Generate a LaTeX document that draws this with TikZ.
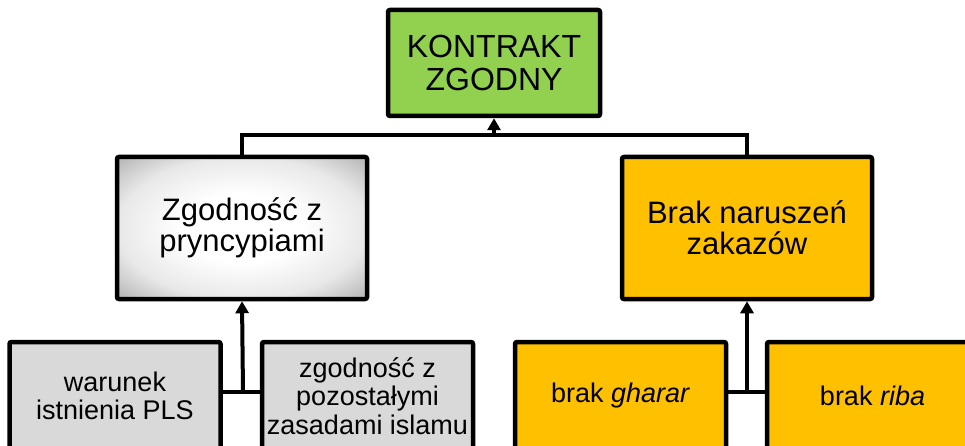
\documentclass[tikz,border=0pt]{standalone}
\usepackage{fontspec}
\setmainfont{Liberation Sans}
\usepackage{tikz}
\usetikzlibrary{arrows.meta,% triangle arrow tips
shadings}
\definecolor{zielony}{HTML}{92D050}
\definecolor{pomarancz}{HTML}{FFC000}
\definecolor{szary}{HTML}{D9D9D9}
\pgfdeclareradialshading{srodek}{\pgfpoint{0bp}{0bp}}{color(0bp)=(white); color(12bp)=(white);
  color(25bp)=(gray!18); color(36bp)=(gray!62); color(50bp)=(gray!62)}
\tikzset{box/.style={draw=black, line width=4.5pt, rounded corners=2pt,
                     align=center, inner sep=0pt, text=black},
         bigbox/.style={box, minimum width=212pt, minimum height=106pt,
                        font=\fontsize{32}{33}\selectfont},
         midbox/.style={box, minimum width=250pt, minimum height=142pt,
                        font=\fontsize{31}{31}\selectfont},
         smallbox/.style={box, minimum width=211pt, minimum height=108pt,
                          font=\fontsize{27}{28.5}\selectfont},
         link/.style={line width=4pt},
         arr/.style={link, -{Triangle[width=13pt,length=12pt]}}}

\begin{document}
\begin{tikzpicture}[x=1pt, y=1pt]
    \clip (0,0) rectangle (965,445);
    \useasboundingbox (0,0) rectangle (965,445);
    \fill[white] (0,0) rectangle (965,445);
    % top
    \node[bigbox, fill=zielony] (kontrakt) at (494,382) {KONTRAKT\\ZGODNY};
    \coordinate (bar) at (494,310);
    % middle level
    \node[midbox, shading=srodek] (zgodnosc) at (242,217) {Zgodność z\\pryncypiami};
    \node[midbox, fill=pomarancz] (brak) at (747,217) {Brak naruszeń\\zakazów};
    % bottom level
    \node[smallbox, fill=szary] (warunek) at (115,49) {warunek\\istnienia PLS};
    \node[smallbox, fill=szary] (zasady) at (367.5,49) {zgodność z\\pozostałymi\\zasadami islamu};
    \node[smallbox, fill=pomarancz] (gharar) at (620.5,49) {brak \textit{gharar}};
    \node[smallbox, fill=pomarancz] (riba) at (872.5,49) {brak \textit{riba}};
    \coordinate (jL) at (243,53);
    \coordinate (jR) at (747,53);
    % connectors
    \draw[link] (zgodnosc.north) |- (brak.north |- bar) -- (brak.north);
    \draw[arr] (bar) -- (kontrakt.south);
    \draw[link] (warunek.east |- jL) -- (zasady.west |- jL);
    \draw[arr] (jL) -- (zgodnosc.south);
    \draw[link] (gharar.east |- jR) -- (riba.west |- jR);
    \draw[arr] (jR) -- (brak.south);
\end{tikzpicture}
\end{document}
